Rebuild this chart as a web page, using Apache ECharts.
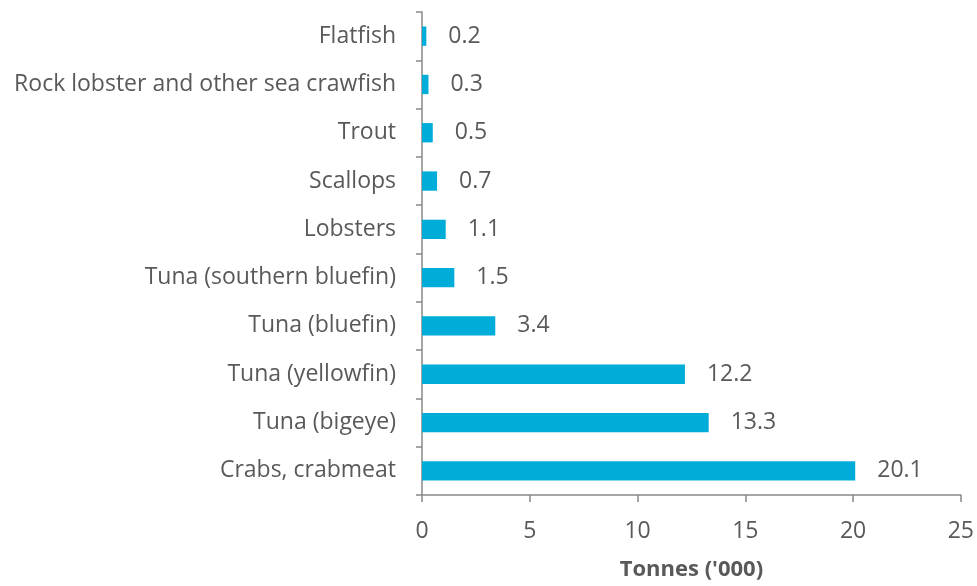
<!DOCTYPE html>
<html><head><meta charset="utf-8">
<script src="https://cdn.jsdelivr.net/npm/echarts@6/dist/echarts.min.js"></script>
<style>html,body{margin:0;padding:0;background:#fff}#c{width:977px;height:586px}</style>
</head><body><div id="c"></div>
<script>
const categories = ["Crabs, crabmeat","Tuna (bigeye)","Tuna (yellowfin)","Tuna (bluefin)","Tuna (southern bluefin)","Lobsters","Scallops","Trout","Rock lobster and other sea crawfish","Flatfish"];
const values = [20.1,13.3,12.2,3.4,1.5,1.1,0.7,0.5,0.3,0.2];
const xTicks = [0,5,10,15,20,25];
const axisTitle = "Tonnes ('000)";
const font = "'Open Sans', sans-serif";
const chart = echarts.init(document.getElementById('c'));
chart.setOption({
  animation:false,
  grid:{left:422,right:15,top:12,bottom:89,containLabel:false},
  xAxis:{type:'value',min:xTicks[0],max:xTicks[xTicks.length-1],interval:5,
    name:axisTitle,nameLocation:'middle',nameGap:64,
    nameTextStyle:{fontFamily:font,fontSize:22,fontWeight:'bold',color:'#595959'},
    axisLine:{show:true,lineStyle:{color:'#898989',width:1.5}},
    axisTick:{show:true,length:7,lineStyle:{color:'#898989',width:1.5}},
    splitLine:{show:false},
    axisLabel:{fontFamily:font,fontSize:23,color:'#595959',margin:25}},
  yAxis:{type:'category',data:categories,
    axisLine:{show:true,lineStyle:{color:'#898989',width:1.5}},
    axisTick:{show:true,length:6,lineStyle:{color:'#898989',width:1.5}},
    axisLabel:{fontFamily:font,fontSize:23,color:'#595959',margin:26}},
  series:[{type:'bar',data:values,barCategoryGap:'60%',
    itemStyle:{color:'#00ADD9'},
    label:{show:true,position:'right',distance:22,fontFamily:font,fontSize:23,color:'#595959',
      formatter:p=>p.value.toFixed(1)}}]
});
</script></body></html>
